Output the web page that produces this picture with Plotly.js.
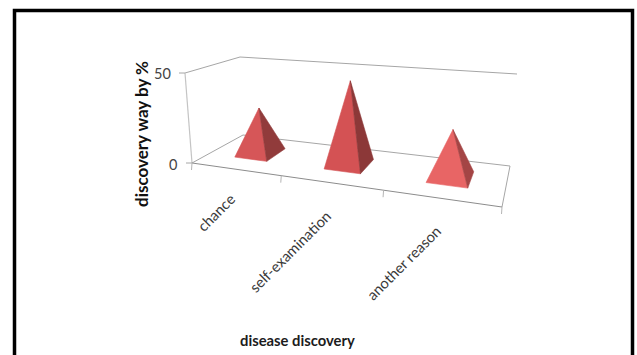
<!DOCTYPE html>
<html>
<head>
<meta charset="utf-8">
<script src="https://cdn.plot.ly/plotly-3.0.1.min.js"></script>
<style>html,body{margin:0;padding:0;background:#fff}#chart{width:637px;height:355px}</style>
</head>
<body>
<div id="chart"></div>
<script>
// Discovery routes of the disease, in percent
const categories = ["chance", "self-examination", "another reason"];
const discoveryPercent = [26, 46, 25];
const valueTicks = [0, 50];

const frontColors = ["#d65658", "#d45254", "#e86565"];
const sideColors = ["#913b3b", "#8c3838", "#a44545"];
const valueMax = 50;

// The floor of the 3-D chart and the rise of the box at each floor corner
const floorQuad = [[192,163],[502,207],[510,166],[243,135]];
const riseAtCorner = [[-7,-90],[7,-103],[7,-92],[-3,-78]];

// Unit square to quad homography
function homography(q) {
  const [p0,p1,p2,p3] = q;
  const dx1=p1[0]-p2[0], dy1=p1[1]-p2[1], dx2=p3[0]-p2[0], dy2=p3[1]-p2[1];
  const sx=p0[0]-p1[0]+p2[0]-p3[0], sy=p0[1]-p1[1]+p2[1]-p3[1];
  const det=dx1*dy2-dx2*dy1;
  const g=(sx*dy2-dx2*sy)/det, h=(dx1*sy-sx*dy1)/det;
  const a=p1[0]-p0[0]+g*p1[0], b=p3[0]-p0[0]+h*p3[0];
  const d=p1[1]-p0[1]+g*p1[1], e=p3[1]-p0[1]+h*p3[1];
  return (u,v)=>{const w=g*u+h*v+1;return [(a*u+b*v+p0[0])/w,(d*u+e*v+p0[1])/w];};
}
const onFloor = homography(floorQuad);

// u runs along the categories, v runs into the depth, val is the axis value
function project(u, v, val) {
  const t = val / valueMax, f = onFloor(u,v), r = riseAtCorner;
  const rise = [0,1].map(k => (1-u)*(1-v)*r[0][k] + u*(1-v)*r[1][k] + u*v*r[2][k] + (1-u)*v*r[3][k]);
  return [f[0]+rise[0]*t, f[1]+rise[1]*t];
}

function polyline(points, color, width) {
  return {x:points.map(p=>p[0]), y:points.map(p=>p[1]), mode:"lines", type:"scatter",
          line:{color:color,width:width}, hoverinfo:"skip", showlegend:false};
}
function face(points, color) {
  const closed = points.concat([points[0]]);
  return {x:closed.map(p=>p[0]), y:closed.map(p=>p[1]), mode:"lines", type:"scatter", fill:"toself",
          fillcolor:color, line:{color:color,width:0.6}, hoverinfo:"skip", showlegend:false};
}

const traces = [];
const gridColor = "#a6a6a6", edgeColor = "#8c8c8c";

// Box edges and the ceiling gridline
traces.push(polyline([project(0,0,0), project(0,1,0), project(1,1,0), project(1,0,0)], gridColor, 1));
traces.push(polyline([project(0,0,50), project(0,1,50), project(1,1,50)], gridColor, 1));
traces.push(polyline([project(0,0,0), project(0,0,50)], "#c4c4c4", 1.2));
traces.push(polyline([project(0,0,0), project(1,0,0)], edgeColor, 1));

// Value ticks to the left of the vertical axis
valueTicks.forEach(val => {
  const p = project(0,0,val);
  traces.push(polyline([[p[0]-6,p[1]],p], gridColor, 1));
});
// Category boundary ticks below the front edge
for (let i = 0; i <= categories.length; i++) {
  const p = project(i/categories.length,0,0);
  traces.push(polyline([p,[p[0]-0.5,p[1]+7]], "#b5b5b5", 1));
}

// One pyramid per category
const halfU = 0.062, vNear = 0.3, vFar = 0.72;
categories.forEach((name,i) => {
  const u = (i+0.5)/categories.length, vMid = (vNear+vFar)/2;
  const fl = project(u-halfU,vNear,0), fr = project(u+halfU,vNear,0), br = project(u+halfU,vFar,0);
  const apex = project(u,vMid,discoveryPercent[i]);
  traces.push(face([fl,fr,apex], frontColors[i]));
  traces.push(face([fr,br,apex], sideColors[i]));
});

const font = "Lato, 'Open Sans', sans-serif";
const label = (text,x,y,size,color,extra) => Object.assign({text:text,x:x,y:y,xref:"x",yref:"y",showarrow:false,
  font:{family:font,size:size,color:color},xanchor:"center",yanchor:"middle"},extra||{});

const categoryCenters = [[216,212],[290,251],[403,263]];
const annotations = categories.map((c,i)=>label(c,categoryCenters[i][0],categoryCenters[i][1],14.8,"#3a3a3a",{textangle:-45}));
annotations.push(label(String(valueTicks[0]),173,164,14.5,"#444"));
annotations.push(label(String(valueTicks[1]),162,73,14.5,"#444"));
annotations.push(label("discovery way by %",141,134,17,"#111",{textangle:-90,font:{family:font,size:17,color:"#111",weight:700}}));
annotations.push(label("disease discovery",297,340,14.8,"#1c1c1c",{font:{family:font,size:14.8,color:"#1c1c1c",weight:700}}));

// Black border, open along the bottom
const border = {type:"path", xref:"x", yref:"y", path:"M14.5,355 L14.5,10.5 L632.5,10.5 L632.5,355",
  line:{color:"#000",width:3.5}};

Plotly.newPlot("chart", traces, {
  width:637, height:355, margin:{l:0,r:0,t:0,b:0},
  paper_bgcolor:"#fff", plot_bgcolor:"#fff", showlegend:false,
  xaxis:{range:[0,637],visible:false,fixedrange:true},
  yaxis:{range:[355,0],visible:false,fixedrange:true},
  shapes:[border], annotations:annotations
}, {displayModeBar:false, staticPlot:true});
</script>
</body>
</html>
